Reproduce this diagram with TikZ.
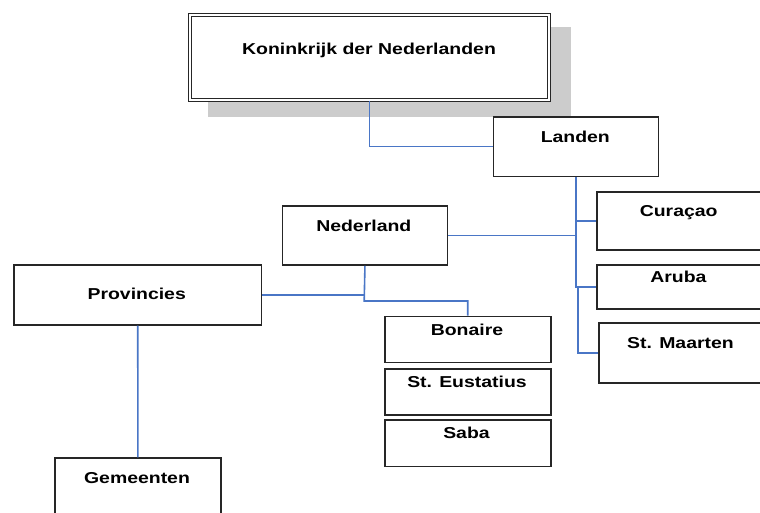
\documentclass[tikz,border=0pt]{standalone}
\usepackage{fontspec}
\newfontfamily\lblfont[FakeStretch=1.23]{Liberation Sans}
\definecolor{lineblue}{HTML}{4A76C6}
\begin{document}
\begin{tikzpicture}[x=1pt,y=-1pt,
  box/.style={draw=black!85, line width=1.5pt, fill=white, inner sep=0pt, anchor=north west},
  lbl/.style={anchor=base, inner sep=0pt, font=\lblfont\fontsize{15.8}{18}\selectfont\bfseries},
  conn/.style={draw=lineblue, line width=1.6pt},
]
\useasboundingbox (0,0) rectangle (760,512);
\clip (0,0) rectangle (760,512);
% shadow of top box
\fill[black!20] (208.3,26.7) rectangle (571,116.7);
% boxes
\node[box, double, double distance=1.6pt, line width=1.2pt, minimum width=359pt, minimum height=85pt] (kon) at (189.5,14.5) {};
\node[box, minimum width=165pt, minimum height=59.7pt] (landen) at (492.7,116) {};
\node[box, minimum width=180pt, minimum height=58pt] (curacao) at (596,191) {};
\node[box, minimum width=180pt, minimum height=44pt] (aruba) at (596,264) {};
\node[box, minimum width=180pt, minimum height=60pt] (maarten) at (598,322) {};
\node[box, minimum width=165pt, minimum height=59.3pt] (nederland) at (281.7,205) {};
\node[box, minimum width=247.4pt, minimum height=59.7pt] (provincies) at (13.3,264.3) {};
\node[box, minimum width=166pt, minimum height=46pt] (bonaire) at (384,315.7) {};
\node[box, minimum width=166pt, minimum height=46pt] (eustatius) at (384,368.3) {};
\node[box, minimum width=166pt, minimum height=46.4pt] (saba) at (384,419.3) {};
\node[box, minimum width=165.7pt, minimum height=80pt] (gemeenten) at (54.3,457.3) {};
% labels
\node[lbl] (tkon) at (369,54.3) {Koninkrijk der Nederlanden};
\node[lbl] (tlanden) at (575.3,142.7) {Landen};
\node[lbl] (tcuracao) at (678.7,216.7) {Curaçao};
\node[lbl] (taruba) at (678.4,282.3) {Aruba};
\node[lbl] (tmaarten) at (680.5,348.3) {St. Maarten};
\node[lbl] (tnederland) at (363.8,231) {Nederland};
\node[lbl] (tprovincies) at (136.7,299) {Provincies};
\node[lbl] (tbonaire) at (467,335) {Bonaire};
\node[lbl] (teustatius) at (467,387.3) {St. Eustatius};
\node[lbl] (tsaba) at (466.5,438.3) {Saba};
\node[lbl] (tgemeenten) at (137,483.7) {Gemeenten};
% connectors
\coordinate (nb) at (364.2,301);
\draw[conn] (kon.south) |- (landen.west);
\draw[conn] (landen.south) -- (landen.south |- aruba.west) -- (aruba.west);
\draw[conn] (landen.south |- curacao.west) -- (curacao.west);
\draw[conn] (nederland.east) -- (nederland.east -| landen.south);
\draw[conn] ([xshift=2pt]landen.south |- aruba.west) |- (maarten.west);
\draw[conn] (nederland.south) -- (nb) -| (bonaire.north);
\draw[conn] (provincies.east) -- (provincies.east -| nederland.south);
\draw[conn] (provincies.south) -- (gemeenten.north);
\end{tikzpicture}
\end{document}
